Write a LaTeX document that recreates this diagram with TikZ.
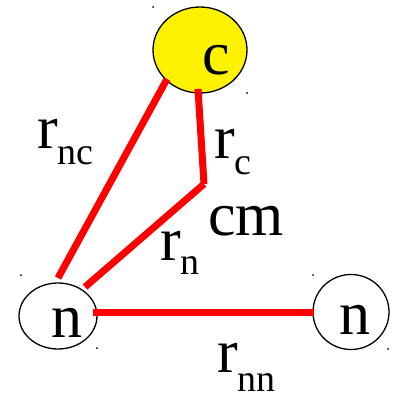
\documentclass[tikz,border=0pt]{standalone}
\usepackage{fontspec}
\setmainfont{Liberation Serif}
\usetikzlibrary{shapes.geometric}
\newcommand{\bigtxt}{\fontsize{62}{62}\selectfont}
\newcommand{\rsub}[2]{r\raisebox{-#2pt}{\fontsize{38}{38}\selectfont #1}}
\tikzset{
  ell/.style={ellipse, draw=black, line width=1.3pt, inner sep=0pt},
  redline/.style={draw=red, line width=7pt},
  lbl/.style={anchor=base west, inner sep=0pt, font=\bigtxt},
  speck/.style={fill=black}
}
\begin{document}
\begin{tikzpicture}[x=1pt,y=-1pt]
\useasboundingbox (0,0) rectangle (397,398);
% circles
\node[ell, fill=yellow, minimum width=94pt, minimum height=86pt] (C) at (200,50) {};
\node[ell, fill=white, minimum width=78pt, minimum height=66pt] (N1) at (58,316) {};
\node[ell, fill=white, minimum width=76pt, minimum height=75pt] (N2) at (351,312) {};
% connector end points
\coordinate (ncTop) at (167,79);
\coordinate (ncBot) at (58,278);
\coordinate (cTop) at (198,89);
\coordinate (cm) at (204,184);
\coordinate (nEnd) at (85,287);
\coordinate (nnL) at (93,312);
\coordinate (nnM) at (194,312);
\coordinate (nnR) at (314,312);
% red lines
\draw[redline] (ncBot) -- (ncTop);
\draw[redline] (cTop) -- (cm);
\draw[redline] (cm) -- (nEnd);
\draw[redline] (nnL) -- (nnM);
\draw[redline] (nnM) -- (nnR);
% letters
\node[lbl] (Ctxt) at (202,75) {c};
\node[lbl] (N1txt) at (51,337) {n};
\node[lbl] (N2txt) at (339,334) {n};
\node[lbl] (rnc) at (37,148) {\rsub{nc}{17}};
\node[lbl] (rc) at (214,158) {\rsub{c}{16}};
\node[lbl] (cmtxt) at (208,235) {cm};
\node[lbl] (rn) at (160,260) {\rsub{n}{14}};
\node[lbl] (rnn) at (217,372) {\rsub{nn}{19}};
% small specks
\foreach \p in {(153,7),(247,93),(21,275),(97,348),(313,275),(388,349)}
  \fill[speck] \p circle (1pt);
\end{tikzpicture}
\end{document}
